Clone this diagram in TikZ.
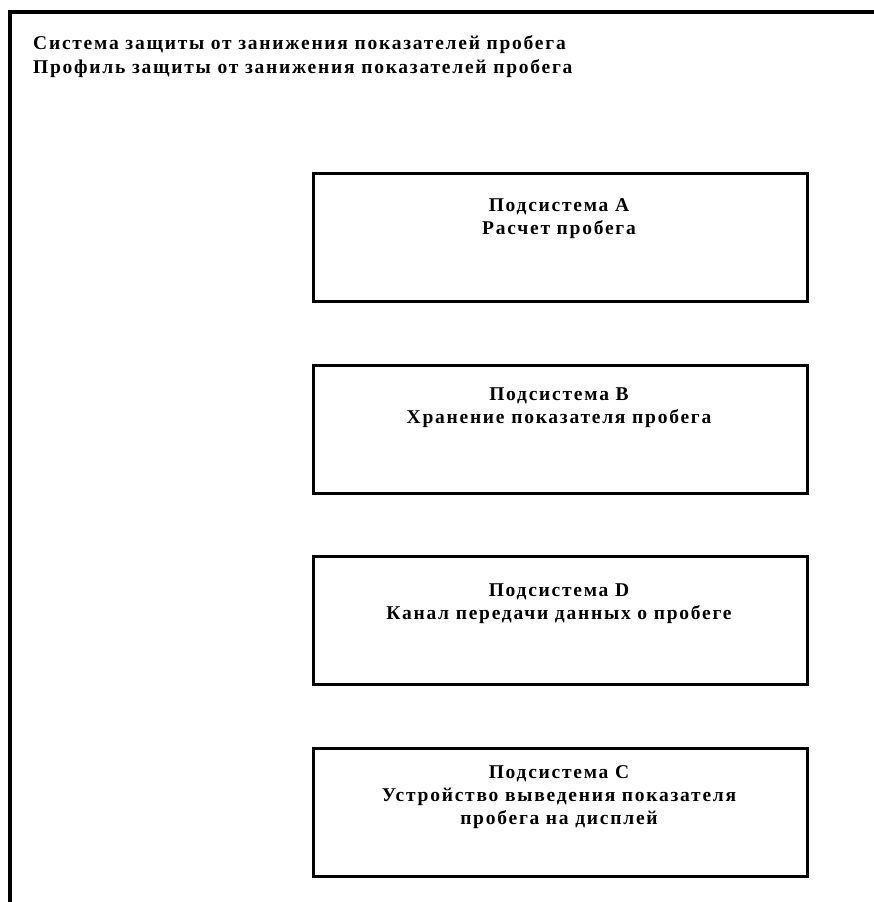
\documentclass[tikz,border=0pt]{standalone}
\usepackage{fontspec}
\setmainfont{Liberation Serif}
\begin{document}
\begin{tikzpicture}[x=1pt,y=-1pt,
  frameline/.style={line width=3.5pt,black},
  sysbox/.style={draw,line width=3.2pt,minimum width=494pt,minimum height=128pt,anchor=north west,inner sep=0pt},
  boxtext/.style={font=\bfseries\fontsize{19.5}{23}\selectfont\addfontfeature{LetterSpace=9},align=center,anchor=base,inner sep=0pt},
  titletext/.style={font=\bfseries\fontsize{19.5}{24}\selectfont\addfontfeature{LetterSpace=9},align=left,anchor=base west,inner sep=0pt}]
\useasboundingbox (0,0) rectangle (874,902);
\coordinate (fb) at (10,905);
\coordinate (ftl) at (10,12);
\coordinate (fr) at (877,12);
\draw[frameline] (fb) -- (ftl) -- (fr);
% anchor=base is the baseline of the last line
\node[titletext] (title) at (33,73) {Система защиты от занижения показателей пробега\\Профиль защиты от занижения показателей пробега};
\node[sysbox] (A) at (312,172) {};
\node[sysbox] (B) at (312,364) {};
\node[sysbox] (D) at (312,555) {};
\node[sysbox] (C) at (312,747) {};
\node[boxtext] (tA) at (559,234) {Подсистема A\\Расчет пробега};
\node[boxtext] (tB) at (559,423) {Подсистема B\\Хранение показателя пробега};
\node[boxtext] (tD) at (559,619) {Подсистема D\\Канал передачи данных о пробеге};
\node[boxtext] (tC) at (559,824) {Подсистема C\\Устройство выведения показателя\\пробега на дисплей};
\end{tikzpicture}
\end{document}
